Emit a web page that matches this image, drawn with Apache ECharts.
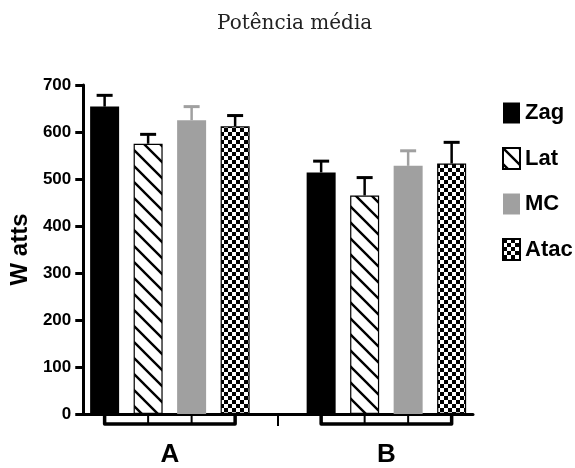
<!DOCTYPE html>
<html>
<head>
<meta charset="utf-8">
<script src="https://cdn.jsdelivr.net/npm/echarts@6/dist/echarts.min.js"></script>
<style>html,body{margin:0;padding:0;background:#fff}#c{width:575px;height:468px}</style>
</head>
<body>
<div id="c"></div>
<script>
// ---- data ----
var GROUPS = ['A', 'B'];
var GROUP_POS = [0, 1];
var SERIES_NAMES = ['Zag', 'Lat', 'MC', 'Atac'];
var ZAG = [654, 514];
var LAT = [575, 465];
var MC = [625, 528];
var ATAC = [612, 533];
var ZAG_ERR = [24, 24];
var LAT_ERR = [20, 38];
var MC_ERR = [29, 32];
var ATAC_ERR = [23, 45];

// ---- style ----
var BAR_W = 29, BAR_GAP = 14.5;
var FONT = "'Liberation Sans', Arial, sans-serif";

function makeHatch() {
  var c = document.createElement('canvas');
  c.width = 16; c.height = 16;
  var g = c.getContext('2d');
  g.fillStyle = '#fff'; g.fillRect(0, 0, 16, 16);
  g.strokeStyle = '#000'; g.lineWidth = 2.4;
  g.beginPath();
  g.moveTo(-2, -2); g.lineTo(18, 18);
  g.moveTo(-2, 14); g.lineTo(2, 18);
  g.moveTo(14, -2); g.lineTo(18, 2);
  g.stroke();
  return c;
}
function makeChecker() {
  var c = document.createElement('canvas');
  c.width = 8; c.height = 8;
  var g = c.getContext('2d');
  g.fillStyle = '#fff'; g.fillRect(0, 0, 8, 8);
  g.fillStyle = '#000';
  g.fillRect(0, 0, 4, 4); g.fillRect(4, 4, 4, 4);
  return c;
}
var STYLES = [
  { color: '#000', borderColor: '#000', borderWidth: 0, err: '#000' },
  { color: { image: makeHatch(), repeat: 'repeat' }, borderColor: '#000', borderWidth: 1.2, err: '#000' },
  { color: '#a0a0a0', borderColor: '#a0a0a0', borderWidth: 0, err: '#a0a0a0' },
  { color: { image: makeChecker(), repeat: 'repeat' }, borderColor: '#000', borderWidth: 1.2, err: '#000' }
];
var VALUES = [ZAG, LAT, MC, ATAC];
var ERRS = [ZAG_ERR, LAT_ERR, MC_ERR, ATAC_ERR];

var barSeries = SERIES_NAMES.map(function (name, si) {
  return {
    name: name,
    type: 'bar',
    barWidth: BAR_W,
    barGap: (BAR_GAP / BAR_W * 100) + '%',
    itemStyle: { color: STYLES[si].color, borderColor: STYLES[si].borderColor, borderWidth: STYLES[si].borderWidth },
    data: GROUP_POS.map(function (x, gi) { return [x, VALUES[si][gi]]; }),
    z: 2
  };
});

var errData = [];
SERIES_NAMES.forEach(function (n, si) {
  GROUP_POS.forEach(function (x, gi) {
    errData.push([x, si, VALUES[si][gi], ERRS[si][gi]]);
  });
});

var errSeries = {
  type: 'custom',
  silent: true,
  z: 3,
  clip: false,
  data: errData,
  encode: { x: 0, y: 2 },
  renderItem: function (params, api) {
    var x = api.value(0), si = api.value(1), m = api.value(2), e = api.value(3);
    var off = (si - 1.5) * (BAR_W + BAR_GAP);
    var p0 = api.coord([x, m]);
    var p1 = api.coord([x, m + e]);
    var cx = p0[0] + off;
    var col = STYLES[si].err;
    return {
      type: 'group',
      children: [
        { type: 'line', shape: { x1: cx, y1: p0[1], x2: cx, y2: p1[1] }, style: { stroke: col, lineWidth: 2.5 } },
        { type: 'line', shape: { x1: cx - 8, y1: p1[1], x2: cx + 8, y2: p1[1] }, style: { stroke: col, lineWidth: 3 } }
      ]
    };
  }
};

var bracketSeries = {
  type: 'custom',
  silent: true,
  z: 4,
  clip: false,
  data: GROUP_POS.map(function (x) { return [x, 0]; }),
  encode: { x: 0, y: 1 },
  renderItem: function (params, api) {
    var p = api.coord([api.value(0), 0]);
    var top = p[1] + 1, bot = p[1] + 10;
    var step = BAR_W + BAR_GAP;
    var xs = [0, 1, 2, 3].map(function (i) { return p[0] + (i - 1.5) * step; });
    var ch = [
      { type: 'polyline', shape: { points: [[xs[0], top], [xs[0], bot], [xs[3], bot], [xs[3], top]] }, style: { stroke: '#000', lineWidth: 3.5, fill: null, lineJoin: 'round' } },
      { type: 'line', shape: { x1: xs[1], y1: top, x2: xs[1], y2: bot }, style: { stroke: '#000', lineWidth: 2 } },
      { type: 'line', shape: { x1: xs[2], y1: top, x2: xs[2], y2: bot }, style: { stroke: '#000', lineWidth: 2 } }
    ];
    return { type: 'group', children: ch };
  }
};

var chart = echarts.init(document.getElementById('c'), null, { renderer: 'canvas' });
chart.setOption({
  backgroundColor: '#fff',
  animation: false,
  title: {
    text: 'Potência média',
    left: 212, top: 9,
    textStyle: { fontFamily: 'DejaVu Serif', fontWeight: 'normal', fontSize: 20, color: '#222' }
  },
  legend: {
    orient: 'vertical',
    left: 497, top: 97,
    itemWidth: 17, itemHeight: 21, itemGap: 23,
    icon: 'rect',
    data: SERIES_NAMES,
    textStyle: { fontFamily: FONT, fontWeight: 'bold', fontSize: 22, color: '#000', lineHeight: 21, padding: [0, 0, 0, 0] }
  },
  grid: { left: 80, right: 102, top: 85, bottom: 50 },
  xAxis: {
    type: 'value',
    min: -0.4, max: 1.4,
    splitLine: { show: false },
    axisLine: { show: true, lineStyle: { color: '#000', width: 3 } },
    axisTick: { show: true, customValues: [0.5], length: 12, lineStyle: { color: '#000', width: 2 } },
    axisLabel: {
      customValues: GROUP_POS,
      formatter: function (v) { return GROUPS[Math.round(v)]; },
      margin: 28,
      fontFamily: FONT, fontWeight: 'bold', fontSize: 26, color: '#000'
    }
  },
  yAxis: {
    type: 'value',
    min: 0, max: 700, interval: 100,
    name: 'W atts',
    nameLocation: 'middle',
    nameRotate: 90,
    nameGap: 50,
    nameTextStyle: { fontFamily: FONT, fontWeight: 'bold', fontSize: 24, color: '#000' },
    splitLine: { show: false },
    axisLine: { show: true, onZero: false, lineStyle: { color: '#000', width: 3 } },
    axisTick: { show: true, length: 8, lineStyle: { color: '#000', width: 3 } },
    axisLabel: { margin: 12, fontFamily: FONT, fontWeight: 'bold', fontSize: 17, color: '#000' }
  },
  series: barSeries.concat([errSeries, bracketSeries])
});
</script>
</body>
</html>
